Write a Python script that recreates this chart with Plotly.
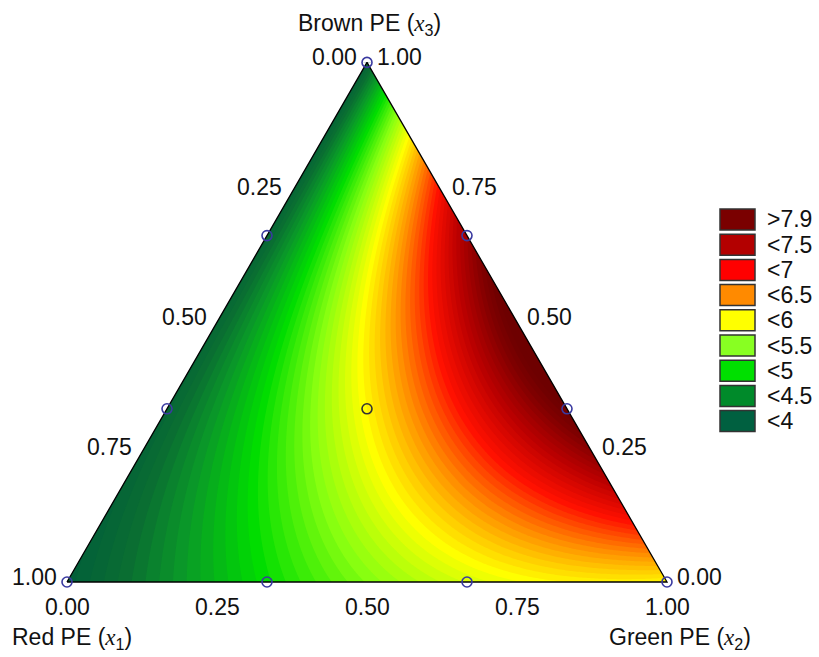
import numpy as np
import plotly.graph_objects as go

# ---------------- data (mixture design points) ----------------
red_pe = [1.0, 0.0, 0.0, 2/3, 1/3, 2/3, 1/3, 0.0, 0.0, 1/3]
green_pe = [0.0, 1.0, 0.0, 1/3, 2/3, 0.0, 0.0, 2/3, 1/3, 1/3]
brown_pe = [0.0, 0.0, 1.0, 0.0, 0.0, 1/3, 2/3, 1/3, 2/3, 1/3]
response = [4.0, 6.0, 4.1, 5.0, 5.8, 4.15, 4.15, 8.05, 7.6, 6.0]

tick_values = [0.0, 0.25, 0.5, 0.75, 1.0]
tick_labels = ["0.00", "0.25", "0.50", "0.75", "1.00"]

legend_labels = [">7.9", "<7.5", "<7", "<6.5", "<6", "<5.5", "<5", "<4.5", "<4"]
legend_colors = ["#7a0000", "#b30000", "#ff0000", "#ff8a00", "#ffff00",
                 "#88ff22", "#00e000", "#008a2a", "#006040"]

# ---------------- model: full cubic Scheffé polynomial ----------------
def terms(a, b, c):
    a, b, c = np.asarray(a, float), np.asarray(b, float), np.asarray(c, float)
    return np.stack([a, b, c, a*b, a*c, b*c, a*b*(a-b), a*c*(a-c), b*c*(b-c), a*b*c], axis=-1)

coef, *_ = np.linalg.lstsq(terms(red_pe, green_pe, brown_pe), np.array(response), rcond=None)

H = np.sqrt(3) / 2

def to_xy(r, g, b):
    r, g, b = np.asarray(r, float), np.asarray(g, float), np.asarray(b, float)
    return g + b / 2, b * H

gx = np.linspace(0, 1, 301)
gy = np.linspace(0, H, 261)
X, Y = np.meshgrid(gx, gy)
B = Y / H
G = X - B / 2
R = 1 - G - B
Z = terms(R, G, B) @ coef

# colorscale (style)
zmin, zmax = 3.9, 8.1
stops = [(3.9, "#005a3c"), (4.3, "#0a6e32"), (4.6, "#0a9a28"), (5.0, "#00dd00"),
         (5.5, "#88ff10"), (6.0, "#ffff00"), (6.5, "#ff9000"), (7.0, "#ff1000"),
         (7.5, "#b80000"), (7.9, "#800000"), (8.1, "#6e0000")]
colorscale = [[(v - zmin) / (zmax - zmin), c] for v, c in stops]

fig = go.Figure()
fig.add_trace(go.Contour(
    x=gx, y=gy, z=Z, colorscale=colorscale, zmin=zmin, zmax=zmax,
    contours=dict(start=3.9, end=8.1, size=0.07, coloring="fill", showlines=False),
    line=dict(width=0), showscale=False, hoverinfo="skip"))

# white masks outside triangle
vx, vy = to_xy([1, 0, 0], [0, 1, 0], [0, 0, 1])
pad = 0.05
fig.add_trace(go.Scatter(x=[vx[0], vx[2], vx[0] - pad, vx[0] - pad, vx[0]],
                         y=[vy[0], vy[2], vy[2] + pad, vy[0] - pad, vy[0] - pad],
                         fill="toself", fillcolor="white", mode="none", hoverinfo="skip", showlegend=False))
fig.add_trace(go.Scatter(x=[vx[1], vx[2], vx[1] + pad, vx[1] + pad, vx[1]],
                         y=[vy[1], vy[2], vy[2] + pad, vy[1] - pad, vy[1] - pad],
                         fill="toself", fillcolor="white", mode="none", hoverinfo="skip", showlegend=False))
# triangle outline
fig.add_trace(go.Scatter(x=list(vx) + [vx[0]], y=list(vy) + [vy[0]], mode="lines",
                         line=dict(color="black", width=1.3), hoverinfo="skip", showlegend=False))
# design points
px_, py_ = to_xy(red_pe, green_pe, brown_pe)
mcol = ["#3a3aa0"] * 9 + ["#333333"]
fig.add_trace(go.Scatter(x=px_, y=py_, mode="markers",
                         marker=dict(symbol="circle-open", size=10, color=mcol, line=dict(width=1.6)),
                         hoverinfo="skip", showlegend=False))

font = dict(family="Liberation Sans, Arial, sans-serif", size=23, color="#111111")
ann = []
# left edge: Red PE fraction
for v, t in zip(tick_values, tick_labels):
    x, y = to_xy(v, 0, 1 - v)
    ann.append(dict(x=x, y=y, text=t, xanchor="right", yanchor="middle", xshift=-8, yshift=5, showarrow=False, font=font))
# right edge: Brown PE fraction
for v, t in zip(tick_values, tick_labels):
    x, y = to_xy(0, 1 - v, v)
    ann.append(dict(x=x, y=y, text=t, xanchor="left", yanchor="middle", xshift=8, yshift=5, showarrow=False, font=font))
# bottom edge: Green PE fraction
for v, t in zip(tick_values, tick_labels):
    x, y = to_xy(1 - v, v, 0)
    ann.append(dict(x=x, y=y, text=t, xanchor="center", yanchor="middle", yshift=-25, showarrow=False, font=font))

xi = "<span style='font-family:Liberation Serif'><i>x</i></span>"
ann.append(dict(x=vx[2], y=vy[2], text=f"Brown PE ({xi}<sub>3</sub>)", xanchor="center", yanchor="middle",
                yshift=38, xshift=2, showarrow=False, font=font))
ann.append(dict(x=vx[0], y=vy[0], text=f"Red PE ({xi}<sub>1</sub>)", xanchor="center", yanchor="middle",
                yshift=-56, xshift=5, showarrow=False, font=font))
ann.append(dict(x=vx[1], y=vy[1], text=f"Green PE ({xi}<sub>2</sub>)", xanchor="center", yanchor="middle",
                yshift=-56, xshift=13, showarrow=False, font=font))

# legend boxes (paper coords)
W, Hh = 819, 657
shapes = []
for i, (lab, col) in enumerate(zip(legend_labels, legend_colors)):
    top = 209 + i * 25.2
    shapes.append(dict(type="rect", xref="paper", yref="paper", x0=720 / W, x1=755 / W,
                       y0=1 - (top + 21) / Hh, y1=1 - top / Hh, fillcolor=col,
                       line=dict(color="#333333", width=1.5)))
    ann.append(dict(xref="paper", yref="paper", x=765 / W, y=1 - (top + 10.5) / Hh, text=lab,
                    xanchor="left", yanchor="middle", showarrow=False, font=font))

fig.update_layout(
    width=W, height=Hh, margin=dict(l=0, r=0, t=0, b=0),
    paper_bgcolor="white", plot_bgcolor="white",
    xaxis=dict(range=[-67 / 600, 752 / 600], visible=False, fixedrange=True),
    yaxis=dict(range=[-75 / 600, 582 / 600], visible=False, fixedrange=True),
    annotations=ann, shapes=shapes, showlegend=False)

fig.write_html("out.html", config={"displayModeBar": False},
               post_script="document.body.style.margin='0';document.body.style.overflow='hidden';")
